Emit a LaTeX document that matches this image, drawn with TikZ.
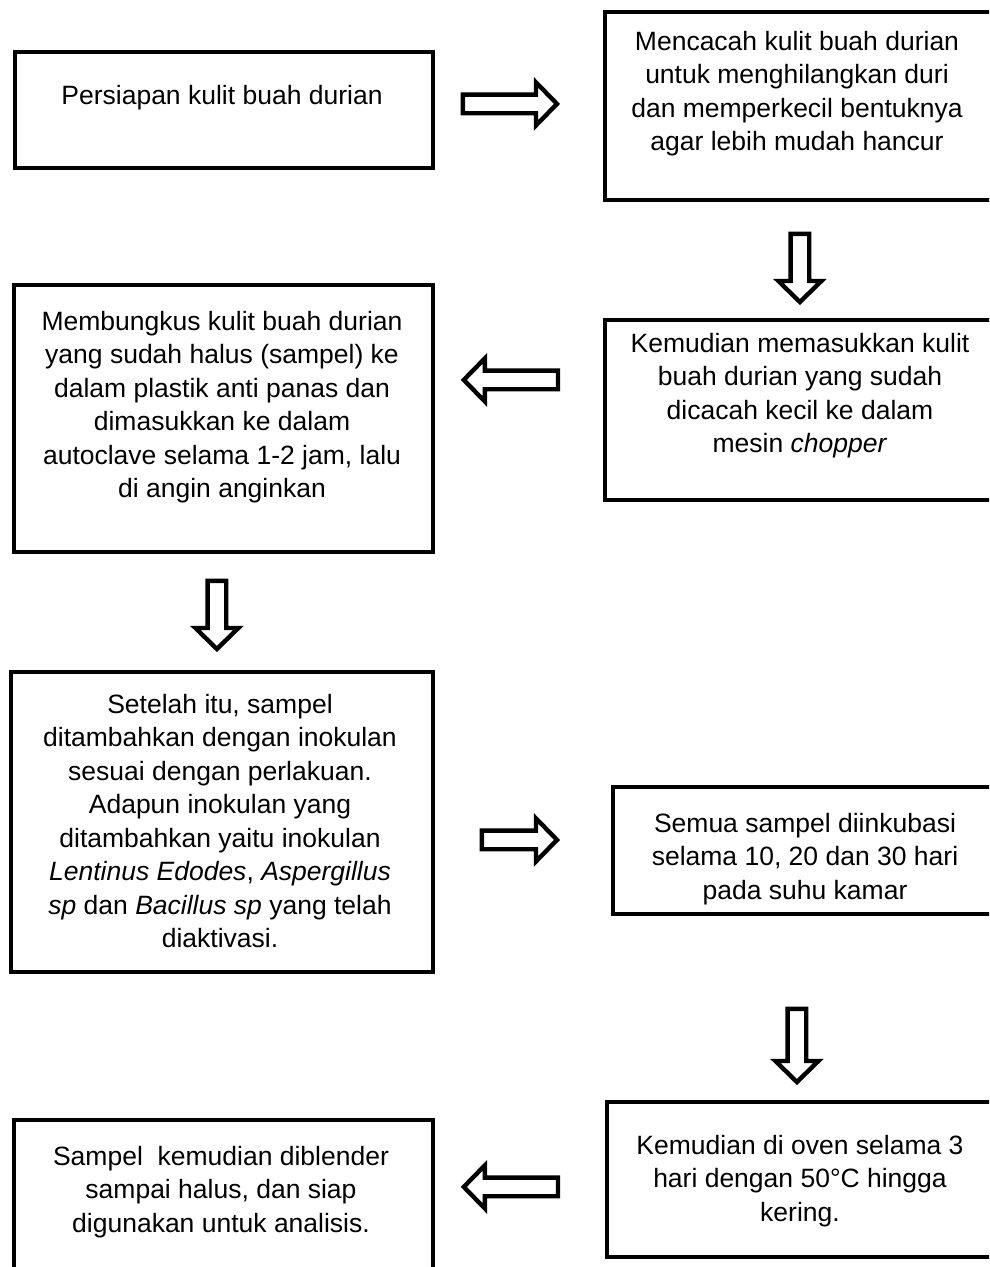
\documentclass[tikz,border=0pt]{standalone}
\usepackage{fontspec}
\setmainfont{Liberation Sans}
\usetikzlibrary{calc}

\begin{document}
\begin{tikzpicture}[x=1pt, y=-1pt,
    stage/.style={draw, line width=3.8pt, anchor=north west, inner sep=0pt},
    stagetext/.style={align=center, anchor=north, inner sep=0pt, font=\fontsize{26.5}{33.5}\selectfont},
    bigarrow/.style={draw, line width=4.4pt, line join=miter, to path={
        let \p1=($(\tikztotarget)!21pt!(\tikztostart)$) in
        ($(\tikztostart)!9.3pt!90:(\tikztotarget)$) -- ($(\p1)!9.3pt!90:(\tikztotarget)$)
        -- ($(\p1)!21.5pt!90:(\tikztotarget)$) -- (\tikztotarget)
        -- ($(\p1)!21.5pt!-90:(\tikztotarget)$) -- ($(\p1)!9.3pt!-90:(\tikztotarget)$)
        -- ($(\tikztostart)!9.3pt!-90:(\tikztotarget)$) -- cycle}}
]

% Page
\clip (0,0) rectangle (989,1267);
\useasboundingbox (0,0) rectangle (989,1267);

% Boxes
\node[stage, minimum width=418pt, minimum height=116pt] (b1) at (13,50) {};
\node[stage, minimum width=400pt, minimum height=188pt] (b2) at (603,10) {};
\node[stage, minimum width=419pt, minimum height=267pt] (b3) at (12,283) {};
\node[stage, minimum width=400pt, minimum height=180pt] (b4) at (603,318) {};
\node[stage, minimum width=422pt, minimum height=300pt] (b5) at (9,670) {};
\node[stage, minimum width=400pt, minimum height=127pt] (b6) at (611,785) {};
\node[stage, minimum width=419pt, minimum height=200pt] (b7) at (12,1118) {};
\node[stage, minimum width=400pt, minimum height=155pt] (b8) at (605,1100) {};

% Texts
\node[stagetext] (t1) at (222,85) {Persiapan kulit buah durian};
\node[stagetext] (t2) at (797,31) {Mencacah kulit buah durian\\ untuk menghilangkan duri\\ dan memperkecil bentuknya\\ agar lebih mudah hancur};
\node[stagetext] (t3) at (222,311) {Membungkus kulit buah durian\\ yang sudah halus (sampel) ke\\ dalam plastik anti panas dan\\ dimasukkan ke dalam\\ autoclave selama 1-2 jam, lalu\\ di angin anginkan};
\node[stagetext] (t4) at (800,333) {Kemudian memasukkan kulit\\ buah durian yang sudah\\ dicacah kecil ke dalam\\ mesin \textit{chopper}};
\node[stagetext] (t5) at (220,694) {Setelah itu, sampel\\ ditambahkan dengan inokulan\\ sesuai dengan perlakuan.\\ Adapun inokulan yang\\ ditambahkan yaitu inokulan\\ \textit{Lentinus Edodes}, \textit{Aspergillus}\\ \textit{sp} dan \textit{Bacillus sp} yang telah\\ diaktivasi.};
\node[stagetext] (t6) at (805,813) {Semua sampel diinkubasi\\ selama 10, 20 dan 30 hari\\ pada suhu kamar};
\node[stagetext] (t7) at (221,1146) {Sampel~ kemudian diblender\\ sampai halus, dan siap\\ digunakan untuk analisis.};
\node[stagetext] (t8) at (800,1135) {Kemudian di oven selama 3\\ hari dengan 50°C hingga\\ kering.};

% Arrows
\draw[bigarrow] ($(b1.east)+(28,-6)$) to ($(b2.west)+(-46,-2)$);
\draw[bigarrow] ($(b2.south)+(-5,32)$) to ($(b4.north)+(-5,-16)$);
\draw[bigarrow] ($(b4.west)+(-45,-30)$) to ($(b3.east)+(29,-38.5)$);
\draw[bigarrow] ($(b3.south)+(-6.5,27)$) to ($(b5.north)+(-5,-21)$);
\draw[bigarrow] ($(b5.east)+(47,18)$) to ($(b6.west)+(-54,-10.5)$);
\draw[bigarrow] ($(b6.south)+(-16,93)$) to ($(b8.north)+(-10,-18)$);
\draw[bigarrow] ($(b8.west)+(-47,7.5)$) to ($(b7.east)+(29,-33)$);

\end{tikzpicture}
\end{document}
